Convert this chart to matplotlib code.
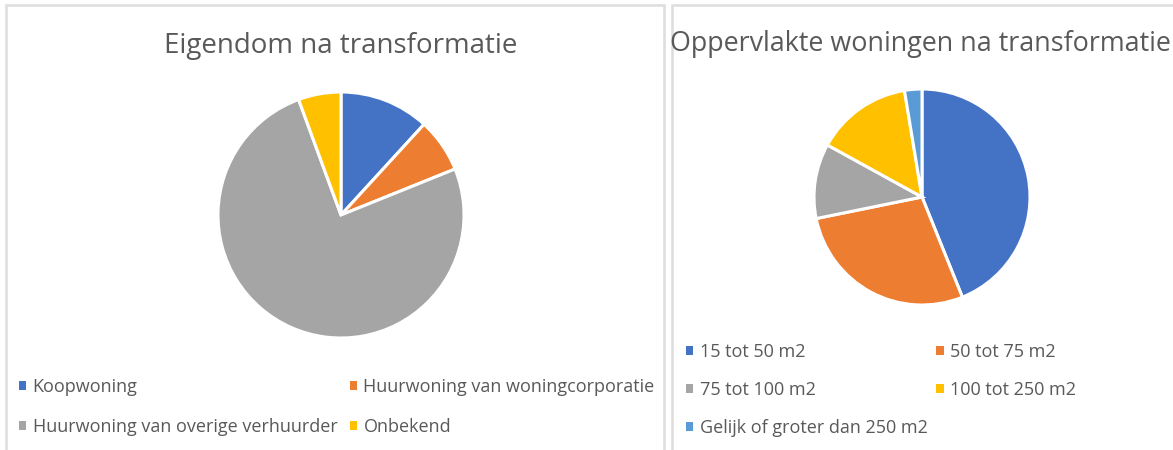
import matplotlib
matplotlib.use("Agg")
import matplotlib.pyplot as plt
from matplotlib.patches import Rectangle, Patch

W, H = 1173, 450

# Data
eig_labels = ["Koopwoning", "Huurwoning van woningcorporatie",
              "Huurwoning van overige verhuurder", "Onbekend"]
eig_values = [11.8, 7.1, 75.5, 5.6]
eig_colors = ["#4472C4", "#ED7D31", "#A5A5A5", "#FFC000"]

opp_labels = ["15 tot 50 m2", "50 tot 75 m2", "75 tot 100 m2",
              "100 tot 250 m2", "Gelijk of groter dan 250 m2"]
opp_values = [43.9, 27.9, 11.2, 14.4, 2.6]
opp_colors = ["#4472C4", "#ED7D31", "#A5A5A5", "#FFC000", "#5B9BD5"]

TXT = "#595959"
FONT = "Open Sans"
plt.rcParams["font.family"] = [FONT, "DejaVu Sans"]

fig = plt.figure(figsize=(W / 100, H / 100), dpi=100)
fig.patch.set_facecolor("white")


def fx(x):
    return x / W


def fy(y):
    return 1 - y / H


# panel borders
for x0, x1 in [(6, 664), (672, 1200)]:
    fig.patches.append(Rectangle((fx(x0), fy(470)), fx(x1 - x0), (470 - 5) / H,
                                 transform=fig.transFigure, fill=False,
                                 edgecolor="#DDDDDD", linewidth=1.8, zorder=0))


def pie_axes(cx, cy, r):
    ax = fig.add_axes([fx(cx - r), fy(cy + r), fx(2 * r), (2 * r) / H])
    ax.set_aspect("equal")
    return ax


# Left pie
ax1 = pie_axes(341, 215, 123)
ax1.pie(eig_values, colors=eig_colors, startangle=90, counterclock=False,
        radius=1.0, wedgeprops=dict(edgecolor="white", linewidth=2.2))
ax1.set_xlim(-1.0, 1.0)
ax1.set_ylim(-1.0, 1.0)
fig.text(fx(341), fy(46), "Eigendom na transformatie", ha="center", va="center",
         fontsize=20, color=TXT)

# Right pie
ax2 = pie_axes(922, 197, 108)
ax2.pie(opp_values, colors=opp_colors, startangle=90, counterclock=False,
        radius=1.0, wedgeprops=dict(edgecolor="white", linewidth=2.2))
ax2.set_xlim(-1.0, 1.0)
ax2.set_ylim(-1.0, 1.0)
fig.text(fx(670), fy(44), "Oppervlakte woningen na transformatie", ha="left",
         va="center", fontsize=19.4, color=TXT)


def row_major(items, ncol):
    n = len(items)
    rows = (n + ncol - 1) // ncol
    out = []
    for c in range(ncol):
        for r in range(rows):
            i = r * ncol + c
            if i < n:
                out.append(items[i])
    return out


def make_legend(labels, colors, x, y, colsp, fs, lsp):
    handles = [Patch(facecolor=c, edgecolor="none", label=l) for l, c in zip(labels, colors)]
    handles = row_major(handles, 2)
    leg = fig.legend(handles=handles, loc="upper left", bbox_to_anchor=(fx(x), fy(y)),
                     ncol=2, frameon=False, fontsize=fs, labelcolor=TXT,
                     handlelength=0.4, handleheight=0.4, handletextpad=0.35,
                     columnspacing=colsp, labelspacing=lsp, borderaxespad=0,
                     borderpad=0)
    return leg


make_legend(eig_labels, eig_colors, 19, 378, 0.7, 13.0, 1.22)
make_legend(opp_labels, opp_colors, 686, 343, 0.5, 13.0, 1.1)

fig.savefig("out.png", dpi=100, facecolor="white")
